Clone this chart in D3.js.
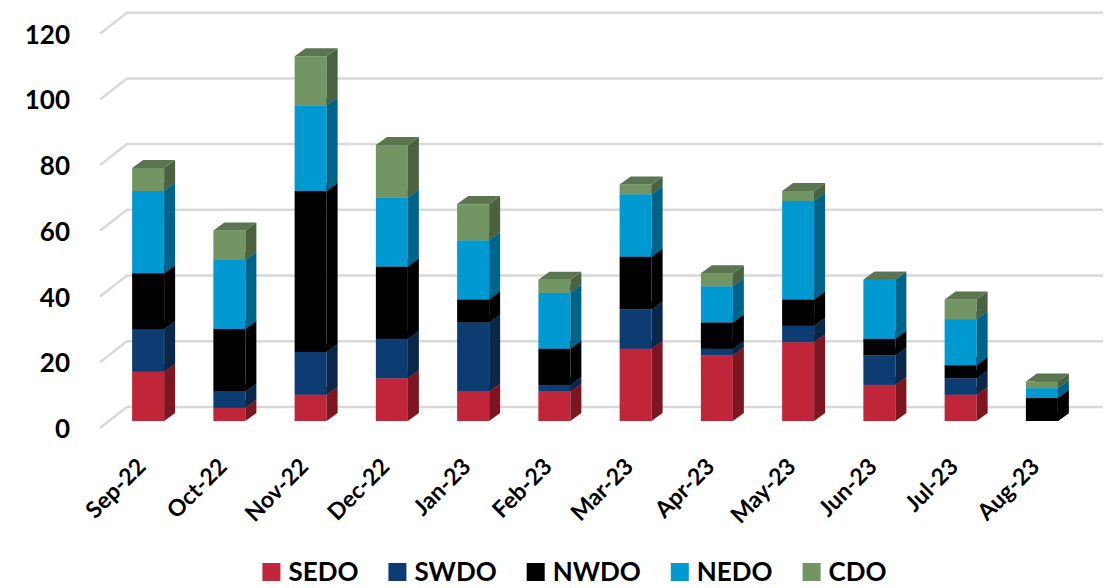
<!DOCTYPE html>
<html>
<head>
<meta charset="utf-8">
<script src="https://cdn.jsdelivr.net/npm/d3@7.9.0/dist/d3.min.js"></script>
<style>
  html, body { margin: 0; padding: 0; background: #fff; }
  svg { display: block; font-family: Lato, "Open Sans", sans-serif; font-weight: bold; }
</style>
</head>
<body>
<svg id="chart" width="1112" height="588"></svg>
<script>
const months = ['Sep-22', 'Oct-22', 'Nov-22', 'Dec-22', 'Jan-23', 'Feb-23',
  'Mar-23', 'Apr-23', 'May-23', 'Jun-23', 'Jul-23', 'Aug-23'];
const seriesNames = ['SEDO', 'SWDO', 'NWDO', 'NEDO', 'CDO'];
const sedo = [15, 4, 8, 13, 9, 9, 22, 20, 24, 11, 8, 0];
const swdo = [13, 5, 13, 12, 21, 2, 12, 2, 5, 9, 5, 0];
const nwdo = [17, 19, 49, 22, 7, 11, 16, 8, 8, 5, 4, 7];
const nedo = [25, 21, 26, 21, 18, 17, 19, 11, 30, 18, 14, 3];
const cdo = [7, 9, 15, 16, 11, 4, 3, 4, 3, 0, 6, 2];
const yTicks = [0, 20, 40, 60, 80, 100, 120];

// front, side, top shades per series
const colors = {
  SEDO: ['#c0253a', '#7e1622', '#a01e30'],
  SWDO: ['#0d3c73', '#092849', '#0b3461'],
  NWDO: ['#000000', '#000000', '#111111'],
  NEDO: ['#0099d1', '#00638a', '#0085b5'],
  CDO:  ['#739563', '#4a6240', '#5a7550']
};

const table = months.map((m, i) => ({
  month: m, SEDO: sedo[i], SWDO: swdo[i], NWDO: nwdo[i], NEDO: nedo[i], CDO: cdo[i]
}));
const stacked = d3.stack().keys(seriesNames)(table);

const svg = d3.select('#chart');

// depth offsets
const backDx = 27, backDy = -21;   // front floor edge -> back wall
const barDx = 11, barDy = -8;      // bar depth
const wallShiftY = -14;            // bar front -> back wall
const barW = 32;

const x = d3.scaleBand().domain(months).range([107.5, 1082.5]);
const y = d3.scaleLinear().domain([0, 120]).range([421, 421 - 120 * 3.286]);

// gridlines: back wall horizontal + diagonal on the side wall
const grid = svg.append('g').attr('stroke', '#d9d9d9').attr('stroke-width', 2.5).attr('fill', 'none');
yTicks.forEach(t => {
  const yb = y(t) + wallShiftY;
  grid.append('path')
    .attr('d', `M${127 - backDx},${yb - backDy} L127,${yb} L1103,${yb}`);
});

// y labels
svg.append('g').selectAll('text').data(yTicks).join('text')
  .attr('x', 70)
  .attr('y', d => y(d) + wallShiftY - backDy)
  .attr('text-anchor', 'end')
  .attr('dominant-baseline', 'central')
  .attr('font-size', 26)
  .attr('fill', '#000')
  .text(d => d);

// bars
const bars = svg.append('g');
months.forEach((m, i) => {
  const x0 = x(m) + (x.bandwidth() - barW) / 2;
  const x1 = x0 + barW;
  const g = bars.append('g');
  stacked.forEach(s => {
    const [v0, v1] = s[i];
    const c = colors[s.key];
    const yt = y(v1), yb = y(v0);
    if (v1 > v0) {
      g.append('rect')
        .attr('x', x0).attr('y', yt)
        .attr('width', barW).attr('height', yb - yt)
        .attr('fill', c[0]);
      g.append('path')
        .attr('d', `M${x1},${yb} L${x1 + barDx},${yb + barDy} L${x1 + barDx},${yt + barDy} L${x1},${yt} Z`)
        .attr('fill', c[1]);
    }
    g.append('path')
      .attr('d', `M${x0},${yt} L${x1},${yt} L${x1 + barDx},${yt + barDy} L${x0 + barDx},${yt + barDy} Z`)
      .attr('fill', c[2]);
  });
});

// x labels
svg.append('g').selectAll('text').data(months).join('text')
  .attr('transform', d => `translate(${x(d) + x.bandwidth() / 2 - 1},${468}) rotate(-45)`)
  .attr('text-anchor', 'end')
  .attr('font-size', 23)
  .attr('fill', '#000')
  .text(d => d);

// legend
const legend = svg.append('g');
let lx = 0;
seriesNames.forEach(name => {
  const item = legend.append('g').attr('transform', `translate(${lx},0)`);
  item.append('rect')
    .attr('x', 0).attr('y', 563)
    .attr('width', 18).attr('height', 18)
    .attr('fill', colors[name][0]);
  const t = item.append('text')
    .attr('x', 26).attr('y', 581)
    .attr('font-size', 26)
    .attr('fill', '#000')
    .text(name);
  lx += 26 + t.node().getComputedTextLength() + 30;
});
const legendW = lx - 30;
legend.attr('transform', `translate(${574.5 - legendW / 2},0)`);
</script>
</body>
</html>
